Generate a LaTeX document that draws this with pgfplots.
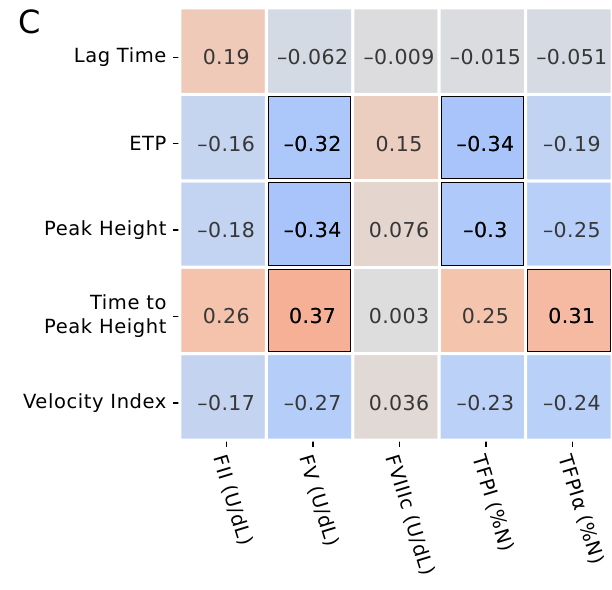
\documentclass[border=0pt]{standalone}
\usepackage{pgfplots}
\pgfplotsset{compat=1.18}
\usepackage{pgfplotstable}
\usepackage{fontspec}
\setmainfont{DejaVu Sans}
\newfontfamily\lblfont[LetterSpace=3]{DejaVu Sans}
\newfontfamily\numfont[LetterSpace=2]{DejaVu Sans}
\definecolor{txtgray}{RGB}{55,55,55}
\pgfplotstableread{
x y r lab
0 0 -0.17 –0.17
1 0 -0.27 –0.27
2 0 0.036 0.036
3 0 -0.23 –0.23
4 0 -0.24 –0.24
0 1 0.26 0.26
1 1 0.37 0.37
2 1 0.003 0.003
3 1 0.25 0.25
4 1 0.31 0.31
0 2 -0.18 –0.18
1 2 -0.34 –0.34
2 2 0.076 0.076
3 2 -0.3 –0.3
4 2 -0.25 –0.25
0 3 -0.16 –0.16
1 3 -0.32 –0.32
2 3 0.15 0.15
3 3 -0.34 –0.34
4 3 -0.19 –0.19
0 4 0.19 0.19
1 4 -0.062 –0.062
2 4 -0.009 –0.009
3 4 -0.015 –0.015
4 4 -0.051 –0.051
}\data
\pgfplotstableread{
x y r lab
1 1 0.37 0.37
4 1 0.31 0.31
1 2 -0.34 –0.34
3 2 -0.3 –0.3
1 3 -0.32 –0.32
3 3 -0.34 –0.34
}\sigdata
\begin{document}
\begin{tikzpicture}
\begin{axis}[
  name=ax,
  scale only axis, width=432pt, height=432pt,
  xmin=-0.5, xmax=4.5, ymin=-0.5, ymax=4.5,
  axis line style={draw=none},
  colormap={cw}{rgb255=(59,76,192) rgb255=(98,130,234) rgb255=(141,176,254) rgb255=(184,208,249) rgb255=(221,221,221) rgb255=(245,196,173) rgb255=(244,154,123) rgb255=(222,96,77) rgb255=(180,4,38)},
  point meta min=-1, point meta max=1,
  xtick={0.04,1.04,2.04,3.04,4.04},
  xticklabels={FII (U/dL),FV (U/dL),FVIIIc (U/dL),TFPI (\%N),TFPIα\ (\%N)},
  ytick={-0.07,0.93,1.93,2.93,3.93},
  yticklabels={Velocity Index,{Time to\\Peak Height},Peak Height,ETP,Lag Time},
  tick align=outside, major tick length=7pt,
  tick style={black, line width=1.3pt},
  tick pos=left,
  xticklabel style={rotate=-73, anchor=west, yshift=-10pt, xshift=3pt, font=\lblfont\fontsize{19.5}{22}\selectfont},
  yticklabel style={align=right, xshift=-3pt, font=\lblfont\fontsize{19.5}{24}\selectfont},
  clip=false,
]
\addplot[matrix plot*, mesh/cols=5, point meta=explicit, draw=white, line width=3pt] table[x=x, y=y, meta=r]{\data};
\addplot[draw=none, mark=none, point meta=explicit symbolic,
  nodes near coords,
  every node near coord/.append style={anchor=center, xshift=3pt, yshift=-6pt, text=txtgray, font=\numfont\fontsize{20.5}{22}\selectfont}]
  table[x=x, y=y, meta=lab]{\data};
\addplot[draw=none, mark=none, point meta=explicit symbolic,
  nodes near coords,
  every node near coord/.append style={anchor=center, xshift=3pt, yshift=-6pt, text=black, font=\numfont\fontsize{20.5}{22}\selectfont}]
  table[x=x, y=y, meta=lab]{\sigdata};
\pgfplotsset{bx/.style={black, line width=1pt, line cap=rect, mark=none}}
\addplot[bx] coordinates {(0.523,0.523) (1.477,0.523) (1.477,1.477) (0.523,1.477) (0.523,0.523)};
\addplot[bx] coordinates {(3.523,0.523) (4.477,0.523) (4.477,1.477) (3.523,1.477) (3.523,0.523)};
\addplot[bx] coordinates {(0.523,1.523) (1.477,1.523) (1.477,2.477) (0.523,2.477) (0.523,1.523)};
\addplot[bx] coordinates {(2.523,1.523) (3.477,1.523) (3.477,2.477) (2.523,2.477) (2.523,1.523)};
\addplot[bx] coordinates {(0.523,2.523) (1.477,2.523) (1.477,3.477) (0.523,3.477) (0.523,2.523)};
\addplot[bx] coordinates {(2.523,2.523) (3.477,2.523) (3.477,3.477) (2.523,3.477) (2.523,2.523)};
\end{axis}
\node[font=\fontsize{32}{34}\selectfont, anchor=center] at ([shift={(-150pt,-14pt)}]ax.north west) {C};
\path (ax.south west) ++(-180pt,-149pt) coordinate (bl);
\path (ax.north east) ++(0pt,8pt) coordinate (tr);
\pgfresetboundingbox
\path[use as bounding box] (bl) rectangle (tr);
\end{tikzpicture}
\end{document}
